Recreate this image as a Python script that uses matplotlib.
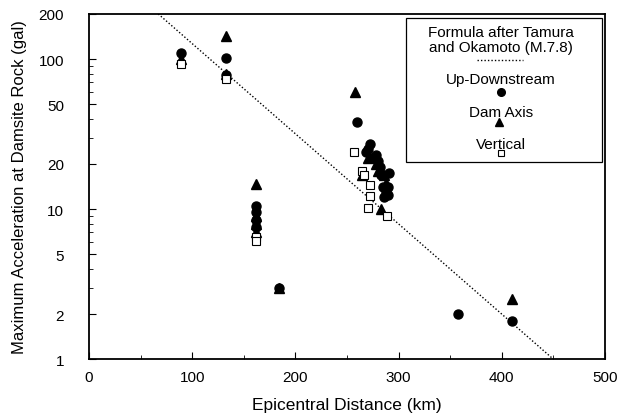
import numpy as np
import matplotlib
matplotlib.use("Agg")
import matplotlib.pyplot as plt
from matplotlib.patches import Rectangle
from matplotlib.lines import Line2D

plt.rcParams['font.family'] = ['Liberation Sans', 'DejaVu Sans']

# Up-Downstream (filled circles)
ud_dist = [89, 133, 133, 162, 162, 162, 162, 184, 260, 268, 270, 272, 275, 278, 280,
           282, 283, 285, 286, 288, 290, 290, 291, 358, 410]
ud_acc = [110, 102, 78, 10.5, 9.6, 8.5, 7.6, 3.0, 38, 24, 25, 27, 22, 23, 21,
          19, 17, 14, 12, 13, 14, 12.5, 17.5, 2.0, 1.8]

# Dam Axis (filled triangles)
da_dist = [89, 133, 133, 162, 162, 162, 162, 184, 258, 265, 270, 278, 280, 283, 286, 288, 410]
da_acc = [100, 143, 80, 14.8, 9.0, 8.0, 7.0, 3.0, 60, 17, 22, 20, 18, 10, 17, 15, 2.5]

# Vertical (open squares)
vt_dist = [89, 133, 162, 162, 257, 265, 266, 272, 272, 270, 289]
vt_acc = [93, 74, 6.5, 6.1, 24, 18, 17, 14.5, 12.3, 10.2, 9.0]

# Formula after Tamura and Okamoto (M 7.8), end points
formula_dist = [67, 450]
formula_acc = [200, 1]

fig, ax = plt.subplots(figsize=(6.23, 4.14), dpi=100)
fig.subplots_adjust(left=0.143, right=0.971, top=0.964, bottom=0.13)

ax.plot(formula_dist, formula_acc, color='k', linestyle=(0, (1, 1.5)), lw=1.0)
ax.plot(ud_dist, ud_acc, 'o', color='k', ms=6.5, ls='none')
ax.plot(da_dist, da_acc, '^', color='k', ms=7, ls='none')
ax.plot(vt_dist, vt_acc, 's', mfc='white', mec='k', mew=0.8, ms=6, ls='none')

ax.set_yscale('log')
ax.set_xlim(0, 500)
ax.set_ylim(1, 200)
yt = [1, 2, 5, 10, 20, 50, 100, 200]
ax.set_yticks(yt)
ax.set_yticklabels([str(v) for v in yt])
ax.set_xticks([0, 100, 200, 300, 400, 500])
ax.set_xticks(np.arange(50, 500, 100), minor=True)
ax.tick_params(which='both', direction='in', labelsize=11)
ax.tick_params(which='major', length=5, width=0.8)
ax.tick_params(which='minor', length=3, width=0.6)
ax.tick_params(axis='y', which='both', pad=18)
ax.tick_params(axis='x', which='both', pad=8)
for s in ax.spines.values():
    s.set_linewidth(1.3)

ax.set_xlabel('Epicentral Distance (km)', fontsize=12.5, labelpad=9)
ax.set_ylabel('Maximum Acceleration at Damsite Rock (gal)', fontsize=12, labelpad=8)

# legend box drawn by hand
T = ax.transAxes
ax.add_patch(Rectangle((0.614, 0.571), 0.38, 0.417, transform=T, fill=False, lw=0.9, ec='k'))
cx = 0.798
fs = 11
ax.text(cx, 0.926, 'Formula after Tamura\nand Okamoto (M.7.8)', transform=T,
        ha='center', va='center', fontsize=fs, linespacing=1.05)
ax.add_line(Line2D([0.752, 0.841], [0.867, 0.867], transform=T, color='k',
                   linestyle=(0, (1, 1.5)), lw=1.0))
ax.text(cx, 0.812, 'Up-Downstream', transform=T, ha='center', va='center', fontsize=fs)
ax.plot([cx], [0.774], 'o', color='k', ms=5.5, transform=T)
ax.text(cx, 0.716, 'Dam Axis', transform=T, ha='center', va='center', fontsize=fs)
ax.plot([cx - 0.004], [0.687], '^', color='k', ms=6, transform=T)
ax.text(cx, 0.623, 'Vertical', transform=T, ha='center', va='center', fontsize=fs)
ax.plot([cx], [0.597], 's', mfc='white', mec='k', mew=0.8, ms=5, transform=T)

fig.savefig('out.png', dpi=100)
